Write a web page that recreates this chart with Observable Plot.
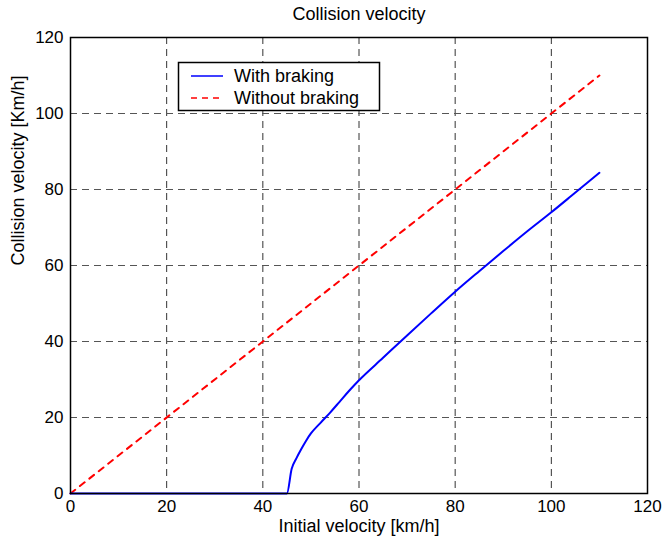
<!DOCTYPE html>
<html>
<head>
<meta charset="utf-8">
<script src="https://cdn.jsdelivr.net/npm/d3@7"></script>
<script src="https://cdn.jsdelivr.net/npm/@observablehq/plot@0.6"></script>
<style>
  body { margin: 0; background: white; }
  #chart { position: relative; width: 663px; height: 542px; }
</style>
</head>
<body>
<div id="chart"></div>
<script>
// Data
const initialVelocity = [0, 45, 46, 47, 48, 49, 50, 52, 54, 56, 58, 60, 65, 70, 75, 80, 85, 90, 95, 100, 105, 110];
const withBraking     = [0, 0, 6.5, 9.3, 11.7, 13.9, 15.8, 18.6, 21.3, 24.2, 27.1, 29.8, 35.7, 41.6, 47.4, 53.1, 58.5, 63.8, 69.0, 74.0, 79.2, 84.4];
const noBrakeX = [0, 110];
const noBrakeY = [0, 110];
const xTicks = [0, 20, 40, 60, 80, 100, 120];
const yTicks = [0, 20, 40, 60, 80, 100, 120];
const gridX = [20, 40, 60, 80, 100];
const gridY = [20, 40, 60, 80, 100];
const seriesNames = ["With braking", "Without braking"];
const titleText = "Collision velocity";
const xLabel = "Initial velocity [km/h]";
const yLabel = "Collision velocity [Km/h]";

const braking = initialVelocity.map((v, i) => ({x: v, y: withBraking[i]}));
const noBraking = noBrakeX.map((v, i) => ({x: v, y: noBrakeY[i]}));

const font = "'Liberation Sans', Arial, Helvetica, sans-serif";

const chart = Plot.plot({
  width: 663,
  height: 542,
  marginLeft: 70,
  marginRight: 16,
  marginTop: 37,
  marginBottom: 49,
  style: {fontFamily: font, fontSize: "17px", color: "black", background: "white"},
  x: {domain: [0, 120]},
  y: {domain: [0, 120]},
  marks: [
    Plot.ruleX(gridX, {stroke: "#333", strokeWidth: 1, strokeDasharray: "7,5"}),
    Plot.ruleY(gridY, {stroke: "#555", strokeWidth: 1, strokeDasharray: "7,5"}),
    Plot.line(noBraking, {x: "x", y: "y", stroke: "red", strokeWidth: 2, strokeDasharray: "6,6"}),
    Plot.line(braking, {x: "x", y: "y", stroke: "blue", strokeWidth: 2, curve: "monotone-x"}),
    Plot.frame({stroke: "black", strokeWidth: 1.5}),
    Plot.axisX(xTicks, {tickSize: 0, tickPadding: 6, fontSize: 17, label: null}),
    Plot.axisY(yTicks, {tickSize: 0, tickPadding: 7, fontSize: 17, label: null}),
    Plot.text([titleText], {frameAnchor: "top", lineAnchor: "middle", dy: -23, fontSize: 18}),
    Plot.text([xLabel], {frameAnchor: "bottom", lineAnchor: "middle", dy: 33, fontSize: 18}),
    Plot.text([yLabel], {frameAnchor: "left", lineAnchor: "middle", rotate: -90, dx: -52, fontSize: 18})
  ]
});
document.getElementById("chart").appendChild(chart);

// Legend box (decoration drawn into the same SVG)
const svg = d3.select(chart);
const lg = svg.append("g").attr("font-family", font).attr("font-size", 18).attr("text-anchor", "start");
lg.append("rect").attr("x", 178.5).attr("y", 62.5).attr("width", 201).attr("height", 48)
  .attr("fill", "white").attr("stroke", "black").attr("stroke-width", 1.5);
const styles = [{stroke: "blue", dash: null}, {stroke: "red", dash: "6,5"}];
seriesNames.forEach((name, i) => {
  const cy = 76 + i * 22;
  lg.append("line").attr("x1", 191).attr("x2", 223).attr("y1", cy).attr("y2", cy)
    .attr("stroke", styles[i].stroke).attr("stroke-width", 1.5)
    .attr("stroke-dasharray", styles[i].dash);
  lg.append("text").attr("x", 234).attr("y", cy + 6).attr("text-anchor", "start")
    .attr("fill", "black").text(name);
});
</script>
</body>
</html>
